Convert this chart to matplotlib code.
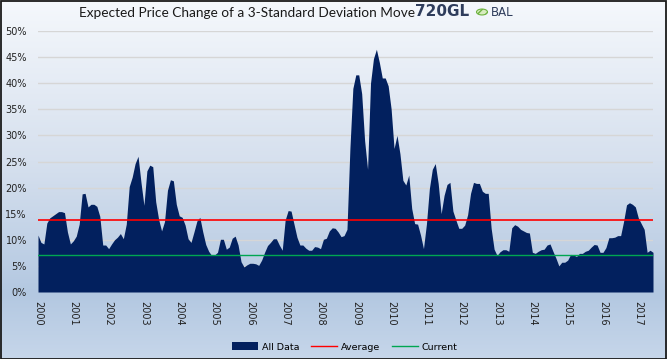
import numpy as np
import matplotlib
matplotlib.use('Agg')
import matplotlib.pyplot as plt
from matplotlib.colors import LinearSegmentedColormap
from matplotlib.patches import Patch, Rectangle, Circle
from matplotlib.lines import Line2D

# monthly values (%), Jan 2000 .. Jun 2017
vals_2000 = [10.9, 9.5, 9.2, 13.2, 14.2, 14.6, 15.0, 15.4, 15.4, 15.2, 11.5, 9.2]
vals_2001 = [9.8, 10.7, 13.0, 18.8, 18.9, 16.3, 16.8, 16.8, 16.4, 14.5, 9.0, 9.0]
vals_2002 = [8.3, 9.2, 10.0, 10.5, 11.2, 10.2, 13.0, 20.2, 22.0, 24.6, 26.0, 21.0]
vals_2003 = [16.6, 23.2, 24.3, 24.0, 17.3, 13.9, 11.7, 13.5, 19.5, 21.5, 21.3, 16.8]
vals_2004 = [14.6, 14.3, 12.8, 10.2, 9.5, 11.5, 13.6, 14.3, 11.5, 9.1, 7.8, 7.0]
vals_2005 = [7.1, 7.6, 10.1, 10.1, 8.2, 8.6, 10.3, 10.7, 9.0, 5.8, 4.8, 5.2]
vals_2006 = [5.5, 5.5, 5.4, 5.1, 6.1, 7.6, 8.9, 9.5, 10.2, 10.2, 9.0, 8.0]
vals_2007 = [13.8, 15.6, 15.5, 13.0, 10.5, 9.0, 9.0, 8.4, 8.0, 8.0, 8.7, 8.6]
vals_2008 = [8.3, 10.1, 10.3, 11.7, 12.3, 12.2, 11.5, 10.6, 10.8, 12.0, 27.5, 39.0]
vals_2009 = [41.6, 41.6, 38.0, 29.0, 23.5, 40.0, 44.7, 46.5, 44.0, 41.0, 41.0, 39.5]
vals_2010 = [35.1, 27.5, 30.0, 26.5, 21.4, 20.5, 22.4, 16.0, 13.1, 13.0, 10.9, 8.3]
vals_2011 = [13.0, 19.8, 23.5, 24.6, 20.8, 15.0, 18.5, 20.6, 21.0, 15.5, 13.8, 12.2]
vals_2012 = [12.2, 12.8, 14.8, 18.9, 21.0, 20.8, 20.8, 19.3, 18.9, 18.9, 12.2, 8.2]
vals_2013 = [7.0, 7.7, 8.1, 8.1, 7.8, 12.3, 12.9, 12.6, 12.0, 11.7, 11.4, 11.3]
vals_2014 = [7.6, 7.4, 7.8, 8.1, 8.2, 9.0, 9.2, 7.8, 6.5, 5.0, 5.7, 5.7]
vals_2015 = [6.1, 7.2, 7.1, 6.8, 7.4, 7.4, 7.8, 8.0, 8.6, 9.1, 9.0, 7.6]
vals_2016 = [7.6, 8.5, 10.4, 10.4, 10.5, 10.8, 10.8, 13.5, 16.7, 17.1, 16.8, 16.3]
vals_2017 = [14.2, 13.1, 12.0, 7.6, 8.0, 7.6]

average = 13.7
current = 7.0
years = [str(y) for y in range(2000, 2018)]

all_data = np.array(vals_2000 + vals_2001 + vals_2002 + vals_2003 + vals_2004 + vals_2005 +
                    vals_2006 + vals_2007 + vals_2008 + vals_2009 + vals_2010 + vals_2011 +
                    vals_2012 + vals_2013 + vals_2014 + vals_2015 + vals_2016 + vals_2017) / 100.0

navy = '#02205e'
red = '#ff0000'
green = '#00a651'
W, H = 667, 359

fig = plt.figure(figsize=(W / 100, H / 100), dpi=100)

# background gradient
bg = fig.add_axes([0, 0, 1, 1], zorder=-5)
cmap_bg = LinearSegmentedColormap.from_list('bg', [(0, '#f5f8fc'), (0.45, '#d6e0ee'),
                                                   (0.82, '#b3c8e1'), (1.0, '#c6d6ea')])
grad = np.linspace(0, 1, 256).reshape(-1, 1)
bg.imshow(grad, aspect='auto', cmap=cmap_bg, extent=[0, 1, 0, 1], origin='upper')
bg.axis('off')
fig.patches.append(Rectangle((0.5 / W, 0.5 / H), 1 - 1.5 / W, 1 - 1.5 / H, transform=fig.transFigure,
                             fill=False, edgecolor='#1a1a1a', lw=1.3))

ax = fig.add_axes([38 / W, 1 - 292 / H, (653 - 38) / W, (292 - 31) / H])
ax.patch.set_alpha(0)
x = np.arange(len(all_data))
ax.fill_between(x, all_data, color=navy, lw=0, zorder=2)
ax.axhline(average / 100, color=red, lw=1.2, zorder=3)
ax.axhline(current / 100, color=green, lw=1.0, zorder=3)

ax.set_xlim(0, len(all_data) - 1)
ax.set_ylim(0, 0.5)
yt = np.arange(0, 0.501, 0.05)
ax.set_yticks(yt)
ax.set_yticklabels([f'{int(round(v * 100))}%' for v in yt])
ax.set_xticks(np.arange(0, 12 * len(years), 12))
ax.set_xticklabels(years, rotation=-90, ha='center', va='top')
ax.grid(axis='y', color='#d6d6d6', lw=1.0, zorder=0)
ax.set_axisbelow(True)
for s in ax.spines.values():
    s.set_visible(False)
ax.tick_params(axis='y', length=0, labelsize=7, pad=8, labelcolor='#222222')
ax.tick_params(axis='x', length=0, labelsize=7, pad=6.5, labelcolor='#222222')

fig.text(247 / W, 1 - 13 / H, 'Expected Price Change of a 3-Standard Deviation Move',
         ha='center', va='center', fontsize=9.8, family='Lato', color='#1a1a1a')

# logo
fig.text(415 / W, 1 - 12 / H, '720GL', ha='left', va='center', fontsize=11,
         fontweight='bold', color='#2f3d5c', family='DejaVu Sans')
fig.text(513 / W, 1 - 12 / H, 'BAL', ha='right', va='center', fontsize=8.5,
         color='#2f3d5c', family='DejaVu Sans')
fig.patches.append(Circle((482 / W, 1 - 12 / H), 5.5 / W, transform=fig.transFigure,
                          facecolor='#d8ecc0', edgecolor='#6db33f', hatch='////', lw=0.8))

handles = [Patch(facecolor=navy, edgecolor='none'),
           Line2D([], [], color=red, lw=1.0),
           Line2D([], [], color=green, lw=1.0)]
fig.legend(handles, ['All Data', 'Average', 'Current'], loc='center',
           bbox_to_anchor=(0.517, 1 - 347 / H), ncol=3, frameon=False, fontsize=6.8,
           handlelength=2.8, handleheight=0.9, columnspacing=1.2, handletextpad=0.4)

fig.savefig('out.png', dpi=100)
